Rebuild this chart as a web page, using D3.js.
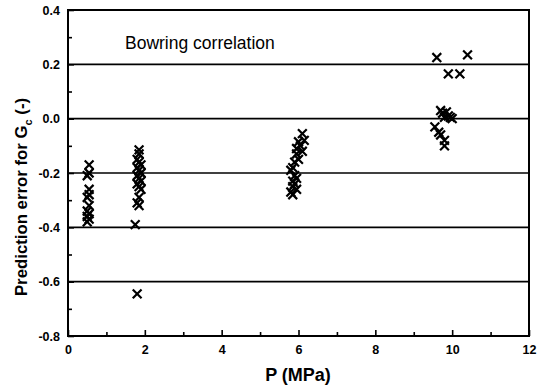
<!DOCTYPE html>
<html>
<head>
<meta charset="utf-8">
<script src="https://cdn.jsdelivr.net/npm/d3@7/dist/d3.min.js"></script>
<style>
  body { margin: 0; background: #fff; }
  text { font-family: Arial, "Liberation Sans", sans-serif; fill: #000; }
</style>
</head>
<body>
<svg id="chart" width="546" height="385"></svg>
<script>
// data: pressure (MPa) and prediction error
var pressure = [
    0.55, 0.55, 0.5, 0.55, 0.55, 0.5, 0.55, 0.5, 0.55, 0.5, 0.55, 0.5,
    1.85, 1.85, 1.8, 1.85, 1.9, 1.8, 1.85, 1.9, 1.8, 1.85, 1.9, 1.8, 1.85, 1.9, 1.85, 1.8, 1.85, 1.75, 1.8,
    6.1, 6.15, 6.0, 6.05, 5.95, 6.1, 5.95, 6.0, 5.9, 5.85, 5.8,
    5.9, 5.95, 5.85, 5.9, 5.85, 5.95, 5.8, 5.85,
    9.6, 10.4, 9.9, 10.2, 9.7, 9.75, 9.85, 9.9, 9.95, 10.0, 9.8, 9.55, 9.65, 9.7, 9.8, 9.8
];
var error = [
    -0.17, -0.2, -0.21, -0.26, -0.28, -0.29, -0.32, -0.34, -0.35, -0.36, -0.37, -0.38,
    -0.115, -0.13, -0.15, -0.16, -0.17, -0.18, -0.19, -0.2, -0.21, -0.22, -0.23, -0.24, -0.25, -0.26, -0.29, -0.31, -0.32, -0.39, -0.645,
    -0.055, -0.08, -0.085, -0.1, -0.11, -0.12, -0.13, -0.15, -0.16, -0.18, -0.19,
    -0.21, -0.22, -0.23, -0.24, -0.25, -0.26, -0.27, -0.28,
    0.225, 0.235, 0.165, 0.165, 0.03, 0.02, 0.025, 0.01, 0.005, 0.0, 0.005, -0.03, -0.05, -0.06, -0.08, -0.1
];
var xTicks = [0, 2, 4, 6, 8, 10, 12];
var xMinor = [1, 3, 5, 7, 9, 11];
var yTicks = [-0.8, -0.6, -0.4, -0.2, 0.0, 0.2, 0.4];
var yMinor = [-0.7, -0.5, -0.3, -0.1, 0.1, 0.3];
var gridValues = [0.2, 0.0, -0.2, -0.4, -0.6];

var svg = d3.select("#chart");
var plotLeft = 68, plotRight = 529, plotTop = 10, plotBottom = 336;

var x = d3.scaleLinear().domain([0, 12]).range([plotLeft, plotRight]);
var y = d3.scaleLinear().domain([-0.8, 0.4]).range([plotBottom, plotTop]);

// horizontal grid lines
svg.selectAll(".grid")
    .data(gridValues)
    .enter().append("line")
    .attr("x1", plotLeft).attr("x2", plotRight)
    .attr("y1", function (d) { return y(d); })
    .attr("y2", function (d) { return y(d); })
    .style("stroke", "#000")
    .style("stroke-width", 1.6);

// axes, ticks pointing inward
svg.append("g")
    .attr("transform", "translate(0," + plotBottom + ")")
    .call(d3.axisBottom(x).tickValues(xTicks).tickSizeInner(-6).tickSizeOuter(0)
        .tickPadding(9).tickFormat(d3.format("d")));
svg.append("g")
    .attr("transform", "translate(0," + plotBottom + ")")
    .call(d3.axisBottom(x).tickValues(xMinor).tickSize(-4).tickSizeOuter(0).tickFormat(""));

var yAxis = svg.append("g")
    .attr("transform", "translate(" + plotLeft + ",0)")
    .call(d3.axisLeft(y).tickValues(yTicks).tickSizeInner(-6).tickSizeOuter(0)
        .tickPadding(8).tickFormat(d3.format(".1f")));
svg.append("g")
    .attr("transform", "translate(" + plotLeft + ",0)")
    .call(d3.axisLeft(y).tickValues(yMinor).tickSize(-4).tickSizeOuter(0).tickFormat(""));

svg.selectAll(".domain").remove();
svg.selectAll(".tick line").style("stroke", "#000").style("stroke-width", 1.6);
svg.selectAll(".tick text")
    .style("font-size", "12.5px")
    .style("font-weight", "bold")
    .style("font-family", "Arial, 'Liberation Sans', sans-serif");
yAxis.selectAll(".tick text").text(function (d) { return d3.format(".1f")(d).replace("−", "-"); });

// frame
svg.append("rect")
    .attr("x", plotLeft).attr("y", plotTop)
    .attr("width", plotRight - plotLeft).attr("height", plotBottom - plotTop)
    .style("fill", "none")
    .style("stroke", "#000")
    .style("stroke-width", 2);

// x markers
var s = 4.4;
svg.selectAll(".pt")
    .data(pressure)
    .enter().append("path")
    .attr("class", "pt")
    .attr("d", function (d, i) {
        var cx = x(d), cy = y(error[i]);
        return "M" + (cx - s) + "," + (cy - s) + "L" + (cx + s) + "," + (cy + s) +
            "M" + (cx - s) + "," + (cy + s) + "L" + (cx + s) + "," + (cy - s);
    })
    .style("stroke", "#000")
    .style("stroke-width", 2.2)
    .style("fill", "none");

// labels
svg.append("text")
    .attr("x", 125).attr("y", 49)
    .style("font-size", "17.5px")
    .text("Bowring correlation");

svg.append("text")
    .attr("x", 298).attr("y", 381)
    .attr("text-anchor", "middle")
    .style("font-size", "18px")
    .style("font-weight", "bold")
    .text("P (MPa)");

var yl = svg.append("text")
    .attr("transform", "translate(27,197) rotate(-90)")
    .attr("text-anchor", "middle")
    .style("font-size", "16.8px")
    .style("font-weight", "bold");
yl.append("tspan").text("Prediction error for G");
yl.append("tspan").attr("dy", 5).style("font-size", "11px").text("c");
yl.append("tspan").attr("dy", -5).text(" (-)");
</script>
</body>
</html>
